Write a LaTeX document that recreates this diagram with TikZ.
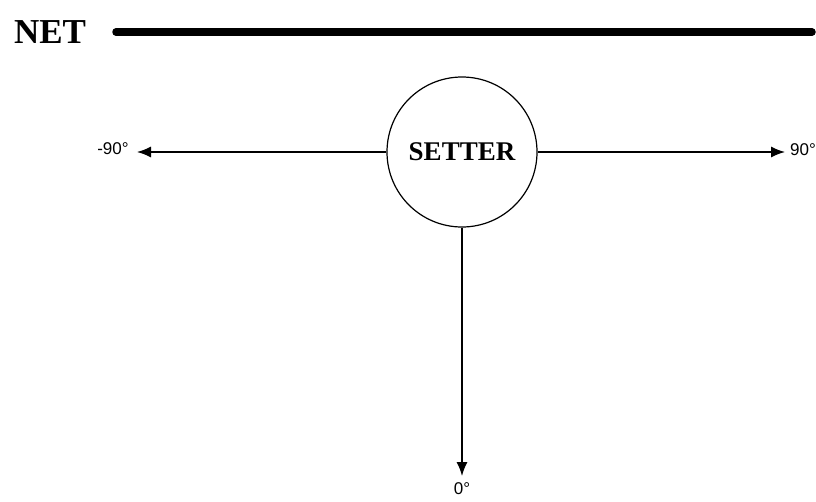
\documentclass[tikz,border=0pt]{standalone}
\usepackage{fontspec}
\setmainfont{Liberation Serif}
\newfontfamily\labelfont{Liberation Sans}
\usepackage{tikz}
\usetikzlibrary{arrows.meta}

\begin{document}
\begin{tikzpicture}[x=1pt,y=-1pt,
    player/.style={draw,line width=1.2pt,circle,minimum size=150pt,inner sep=0pt,font=\fontsize{27}{30}\selectfont\bfseries},
    angle/.style={font=\labelfont\fontsize{17}{20}\selectfont},
    dir/.style={-{Latex[length=14pt,width=11pt]},line width=1.3pt}]
   \useasboundingbox (0,0) rectangle (816,501);

   \draw (50,32) node (net) {\fontsize{35}{40}\selectfont\bfseries NET};
   \draw[line width=7.5pt,line cap=round] (116,32) coordinate (netleft) -- (812,32) coordinate (netright);

   \draw (462,152) node[player] (setter) {SETTER};

   \coordinate (left) at (137,152);
   \coordinate (right) at (785,152);
   \coordinate (down) at (462,476);

   \draw (113,149) node[angle] (minusninety) {-90°};
   \draw (803,150) node[angle] (ninety) {90°};
   \draw (462,489) node[angle] (zero) {0°};

     \path[dir] (setter) edge (left);
     \path[dir] (setter) edge (right);
     \path[dir] (setter) edge (down);

\end{tikzpicture}
\end{document}
